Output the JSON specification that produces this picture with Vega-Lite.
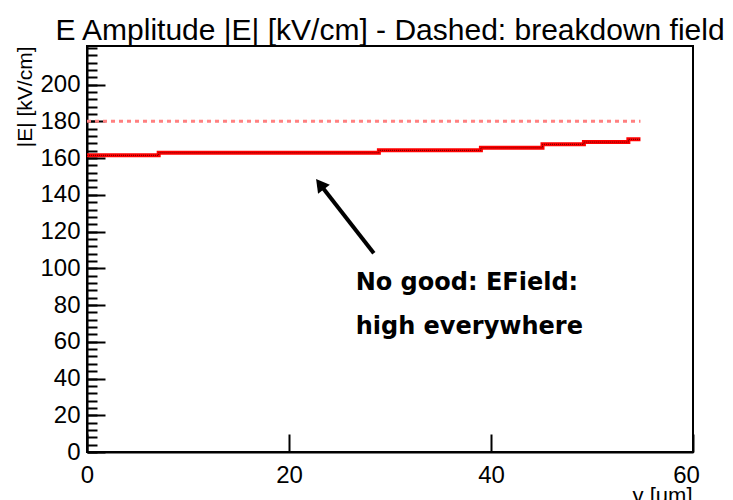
{
  "$schema": "https://vega.github.io/schema/vega-lite/v6.json",
  "width": 606,
  "height": 406,
  "autosize": {"type": "none"},
  "padding": {"left": 87, "top": 46, "right": 40, "bottom": 48},
  "background": "white",
  "title": {
    "text": "E Amplitude |E| [kV/cm] - Dashed: breakdown field",
    "font": "Liberation Sans",
    "fontSize": 30,
    "fontWeight": "normal",
    "color": "black",
    "anchor": "middle",
    "baseline": "alphabetic",
    "offset": 7,
    "dy": 31
  },
  "config": {
    "view": {"stroke": "black", "strokeWidth": 2},
    "axis": {
      "domainColor": "black",
      "domainWidth": 2,
      "tickColor": "black",
      "tickWidth": 2,
      "labelFont": "Liberation Sans",
      "labelFontSize": 24,
      "labelColor": "black",
      "titleFont": "Liberation Sans",
      "titleFontWeight": "normal",
      "titleColor": "black",
      "grid": false,
      "labelFlush": false,
      "labelOverlap": false
    }
  },
  "datasets": {
    "field": [
      {"y_um": 0, "E": 161.5},
      {"y_um": 7.1, "E": 162.9},
      {"y_um": 28.9, "E": 164.2},
      {"y_um": 39.0, "E": 165.6},
      {"y_um": 45.1, "E": 167.5},
      {"y_um": 49.2, "E": 168.7},
      {"y_um": 53.6, "E": 170.2},
      {"y_um": 54.8, "E": 170.2}
    ],
    "breakdown": [
      {"y_um": 0, "E": 180},
      {"y_um": 54.8, "E": 180}
    ],
    "arrow": [
      {"x": 28.4, "y": 108.2, "x2": 23.07, "y2": 145.8}
    ],
    "notes": [
      {"x": 26.6, "y": 88, "t": "No good: EField:"},
      {"x": 26.6, "y": 64.1, "t": "high everywhere"}
    ]
  },
  "resolve": {"axis": {"y": "independent"}},
  "layer": [
    {
      "data": {"name": "breakdown"},
      "mark": {"type": "line", "color": "#ff8080", "strokeWidth": 3, "strokeDash": [4, 4]},
      "encoding": {
        "x": {
          "field": "y_um", "type": "quantitative",
          "scale": {"domain": [0, 60], "nice": false, "zero": false},
          "axis": {
            "values": [0, 20, 40, 60],
            "tickSize": -18,
            "labelPadding": 29,
            "labelOffset": {"condition": {"test": "datum.value === 60", "value": -7}, "value": 0},
            "title": "y [um]",
            "titleFontSize": 22,
            "titleX": 605,
            "titleY": 33,
            "titleAlign": "right",
            "titleBaseline": "top"
          }
        },
        "y": {
          "field": "E", "type": "quantitative",
          "scale": {"domain": [0, 221], "nice": false},
          "axis": {
            "orient": "left",
            "values": [0,4,8,12,16,20,24,28,32,36,40,44,48,52,56,60,64,68,72,76,80,84,88,92,96,100,104,108,112,116,120,124,128,132,136,140,144,148,152,156,160,164,168,172,176,180,184,188,192,196,200,204,208,212,216,220],
            "tickSize": -10,
            "labels": false,
            "domain": false,
            "title": null
          }
        }
      }
    },
    {
      "data": {"name": "field"},
      "mark": {"type": "line", "interpolate": "step-after", "color": "#ff0000", "strokeWidth": 4},
      "encoding": {
        "x": {"field": "y_um", "type": "quantitative"},
        "y": {
          "field": "E", "type": "quantitative",
          "axis": {
            "orient": "left",
            "values": [0, 20, 40, 60, 80, 100, 120, 140, 160, 180, 200],
            "tickSize": -18,
            "labelPadding": 25,
            "title": "|E| [kV/cm]",
            "titleFontSize": 21,
            "titleAnchor": "end",
            "titlePadding": 4
          }
        }
      }
    },
    {
      "data": {"name": "field"},
      "mark": {"type": "line", "interpolate": "step-after", "color": "#600000", "strokeWidth": 1, "strokeDash": [1, 1]},
      "encoding": {
        "x": {"field": "y_um", "type": "quantitative"},
        "y": {"field": "E", "type": "quantitative", "axis": null}
      }
    },
    {
      "data": {"name": "arrow"},
      "mark": {"type": "rule", "color": "black", "strokeWidth": 4},
      "encoding": {
        "x": {"field": "x", "type": "quantitative"},
        "y": {"field": "y", "type": "quantitative", "axis": null},
        "x2": {"field": "x2"},
        "y2": {"field": "y2"}
      }
    },
    {
      "data": {"name": "arrow"},
      "mark": {"type": "point", "shape": "triangle-up", "filled": true, "color": "black", "opacity": 1, "size": 220, "angle": 322.3},
      "encoding": {
        "x": {"field": "x2", "type": "quantitative"},
        "y": {"field": "y2", "type": "quantitative", "axis": null}
      }
    },
    {
      "data": {"name": "notes"},
      "mark": {"type": "text", "align": "left", "baseline": "alphabetic", "font": "DejaVu Sans", "fontWeight": "bold", "fontSize": 24, "color": "black"},
      "encoding": {
        "x": {"field": "x", "type": "quantitative"},
        "y": {"field": "y", "type": "quantitative", "axis": null},
        "text": {"field": "t"}
      }
    }
  ]
}
